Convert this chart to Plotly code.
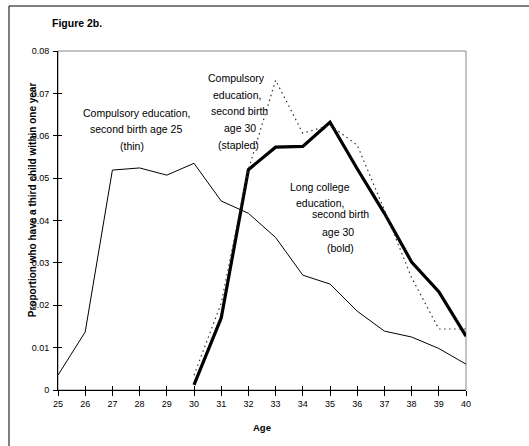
import plotly.graph_objects as go

ages_thin = list(range(25, 41))
thin_vals = [0.0035, 0.0137, 0.0519, 0.0524, 0.0507, 0.0535, 0.0446, 0.0417,
             0.0360, 0.0271, 0.0250, 0.0186, 0.0139, 0.0125, 0.0098, 0.0061]

ages_30 = list(range(30, 41))
bold_vals = [0.0012, 0.0170, 0.0520, 0.0573, 0.0575, 0.0632, 0.0522, 0.0417,
             0.0302, 0.0232, 0.0127]
dotted_vals = [0.0035, 0.0205, 0.0520, 0.0731, 0.0606, 0.0625, 0.0578, 0.0425,
               0.0265, 0.0144, 0.0144]

x_ticks = list(range(25, 41))
y_ticks = [0, 0.01, 0.02, 0.03, 0.04, 0.05, 0.06, 0.07, 0.08]
y_tick_text = ["0", "0.01", "0.02", "0.03", "0.04", "0.05", "0.06", "0.07", "0.08"]

FONT = "Liberation Sans, Arial, sans-serif"

fig = go.Figure()
fig.add_trace(go.Scatter(x=ages_thin, y=thin_vals, mode="lines",
                         line=dict(color="black", width=1), showlegend=False))
fig.add_trace(go.Scatter(x=ages_30, y=bold_vals, mode="lines",
                         line=dict(color="black", width=3.2), showlegend=False))
fig.add_trace(go.Scatter(x=ages_30, y=dotted_vals, mode="lines",
                         line=dict(color="#333333", width=1.2, dash="1.5px,3.5px"),
                         showlegend=False))
# invisible trace for secondary axes (inside ticks to emulate crossing ticks)
fig.add_trace(go.Scatter(x=[25, 40], y=[0, 0.08], mode="markers",
                         marker=dict(opacity=0), xaxis="x2", yaxis="y2",
                         showlegend=False, hoverinfo="skip"))

axis_common = dict(showgrid=False, zeroline=False, showline=True,
                   linecolor="black", linewidth=1, ticks="outside",
                   tickcolor="black", tickwidth=1,
                   tickfont=dict(family=FONT, size=9, color="black"))

fig.update_layout(
    width=529, height=446,
    margin=dict(l=58, r=63, t=51, b=56),
    paper_bgcolor="white", plot_bgcolor="white",
    font=dict(family=FONT, color="black"),
    xaxis=dict(range=[25, 40], tickvals=x_ticks, ticklen=5, **axis_common),
    yaxis=dict(range=[0, 0.08], tickvals=y_ticks, ticktext=y_tick_text,
               ticklen=4, ticklabelstandoff=2, **axis_common),
    xaxis2=dict(range=[25, 40], overlaying="x", tickvals=x_ticks, ticks="inside",
                ticklen=4, tickcolor="black", showticklabels=False,
                showgrid=False, zeroline=False, showline=False),
    yaxis2=dict(range=[0, 0.08], overlaying="y", tickvals=y_ticks, ticks="inside",
                ticklen=4, tickcolor="black", showticklabels=False,
                showgrid=False, zeroline=False, showline=False),
)

shapes = [
    # grey plot-area frame
    dict(type="rect", xref="paper", yref="paper", x0=0, x1=1, y0=0, y1=1,
         line=dict(color="#888888", width=1), layer="below"),
    # outer figure frame (extends beyond right/bottom)
    dict(type="rect", xref="paper", yref="paper", x0=-0.1201, x1=1.3,
         y0=-0.3, y1=1.1327, line=dict(color="black", width=1), layer="below"),
]
fig.update_layout(shapes=shapes)

ann = []
ann.append(dict(text="<b>Figure 2b.</b>", xref="paper", yref="paper",
                x=-0.0196, y=1.0826, xanchor="left", yanchor="middle",
                showarrow=False, font=dict(size=10.5, family=FONT)))
ann.append(dict(text="<b>Proportion who have a third child within one year</b>",
                xref="paper", yref="paper", x=-0.0637, y=0.56, textangle=-90,
                xanchor="center", yanchor="middle", showarrow=False,
                font=dict(size=10, family=FONT)))
ann.append(dict(text="<b>Age</b>", xref="paper", yref="paper", x=0.5, y=-0.112,
                xanchor="center", yanchor="middle", showarrow=False,
                font=dict(size=9.5, family=FONT)))

labels = [
    ("Compulsory education,", 27.87, 0.06533),
    ("second birth age 25", 27.87, 0.06156),
    ("(thin)", 27.72, 0.05755),
    ("Compulsory", 31.58, 0.07370),
    ("education,", 31.58, 0.06969),
    ("second birth", 31.69, 0.06592),
    ("age 30", 31.69, 0.06191),
    ("(stapled)", 31.62, 0.05790),
    ("Long college", 34.632, 0.04788),
    ("education,", 34.632, 0.04410),
    ("second birth", 35.368, 0.04151),
    ("age 30", 35.294, 0.03726),
    ("(bold)", 35.368, 0.03349),
]
for t, xx, yy in labels:
    ann.append(dict(text=t, x=xx, y=yy, xref="x", yref="y", xanchor="center",
                    yanchor="middle", showarrow=False,
                    font=dict(size=10.5, family=FONT, color="black")))
fig.update_layout(annotations=ann)

fig.write_html("out.html",
               config={"displayModeBar": False},
               post_script="document.body.style.margin='0';"
                           "document.body.style.overflow='hidden';")
